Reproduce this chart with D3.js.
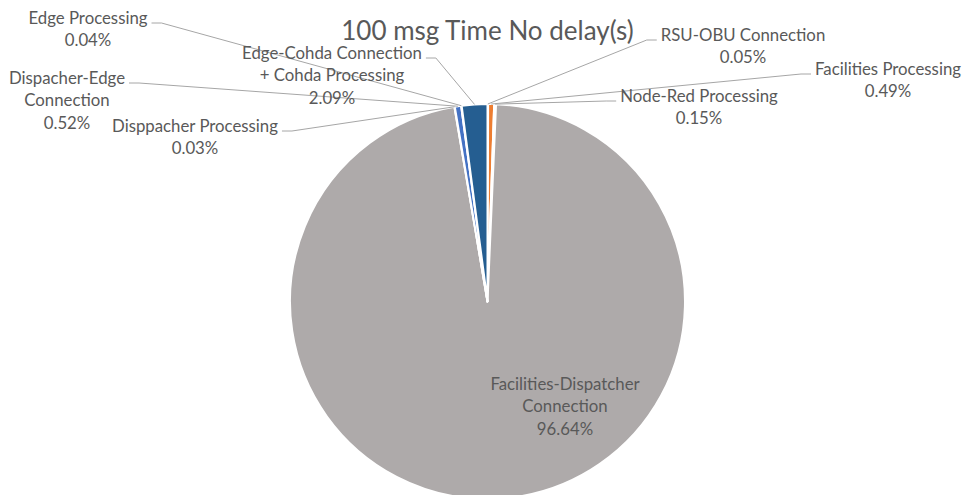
<!DOCTYPE html>
<html>
<head>
<meta charset="utf-8">
<script src="https://cdn.jsdelivr.net/npm/d3@7"></script>
<style>
  html, body { margin: 0; padding: 0; background: #ffffff; }
  svg { display: block; }
  text { font-family: Lato, "Open Sans", sans-serif; fill: #595959; }
</style>
</head>
<body>
<svg id="chart" width="963" height="495"></svg>
<script>
// Time share of each stage for 100 messages, no delay (percent)
const categories = [
  "RSU-OBU Connection",
  "Facilities Processing",
  "Node-Red Processing",
  "Facilities-Dispatcher Connection",
  "Disppacher Processing",
  "Dispacher-Edge Connection",
  "Edge Processing",
  "Edge-Cohda Connection + Cohda Processing"
];
const values = [0.05, 0.49, 0.15, 96.64, 0.03, 0.52, 0.04, 2.09];
const sliceColors = ["#5B9BD5", "#ED7D31", "#A5A5A5", "#AEAAAA", "#FFC000", "#4472C4", "#70AD47", "#255E91"];

// How each category name wraps in its label
const labelLines = [
  ["RSU-OBU Connection"],
  ["Facilities Processing"],
  ["Node-Red Processing"],
  ["Facilities-Dispatcher", "Connection"],
  ["Disppacher Processing"],
  ["Dispacher-Edge", "Connection"],
  ["Edge Processing"],
  ["Edge-Cohda Connection", "+ Cohda Processing"]
];

const title = "100 msg Time No delay(s)";

// Label placement: centre x, first-line y, which side the leader leaves from
const labelLayout = [
  { x: 743, y: 34, side: "left" },
  { x: 888, y: 68, side: "left" },
  { x: 699, y: 95, side: "left" },
  { x: 565, y: 383, side: null },
  { x: 195, y: 125, side: "right" },
  { x: 67,  y: 77, side: "right" },
  { x: 88,  y: 17, side: "right" },
  { x: 332, y: 52, side: "right" }
];

const W = 963, H = 495;
const cx = 487.5, cy = 301.5, radius = 197.5;
const lineHeight = 22.5;

const svg = d3.select("#chart");

svg.append("text")
  .attr("x", cx)
  .attr("y", 30)
  .attr("text-anchor", "middle")
  .attr("dominant-baseline", "central")
  .style("font-size", "26px")
  .text(title);

const data = categories.map((c, i) => ({ name: c, value: values[i], color: sliceColors[i], lines: labelLines[i], layout: labelLayout[i] }));

const pie = d3.pie().sort(null).value(d => d.value).startAngle(0).endAngle(2 * Math.PI);
const arcs = pie(data);
const arc = d3.arc().innerRadius(0).outerRadius(radius);
const rimArc = d3.arc().innerRadius(radius).outerRadius(radius);

const g = svg.append("g").attr("transform", `translate(${cx},${cy})`);

g.selectAll("path.slice")
  .data(arcs)
  .join("path")
  .attr("class", "slice")
  .attr("d", arc)
  .attr("fill", d => d.data.color)
  .attr("stroke", "#ffffff")
  .attr("stroke-width", 2)
  .attr("stroke-linejoin", "round");

const fmt = d3.format(".2f");
const fontSize = 16.8;

// Labels and leader lines
const labels = svg.append("g");
arcs.forEach(a => {
  const L = a.data.layout;
  const lines = a.data.lines.concat([fmt(a.data.value) + "%"]);
  const t = labels.append("text")
    .attr("text-anchor", "middle")
    .style("font-size", fontSize + "px");
  lines.forEach((ln, k) => {
    t.append("tspan")
      .attr("x", L.x)
      .attr("y", L.y + k * lineHeight)
      .attr("dominant-baseline", "central")
      .text(ln);
  });
  if (!L.side) return;
  const firstWidth = t.select("tspan").node().getComputedTextLength();
  const ly = L.y + 6;
  const x0 = L.side === "right" ? L.x + firstWidth / 2 + 4 : L.x - firstWidth / 2 - 4;
  const x1 = L.side === "right" ? x0 + 10 : x0 - 10;
  const c = rimArc.centroid(a);
  labels.append("path")
    .attr("d", d3.line()([[x0, ly], [x1, ly], [cx + c[0], cy + c[1]]]))
    .attr("fill", "none")
    .attr("stroke", "#A6A6A6")
    .attr("stroke-width", 1);
});
</script>
</body>
</html>
